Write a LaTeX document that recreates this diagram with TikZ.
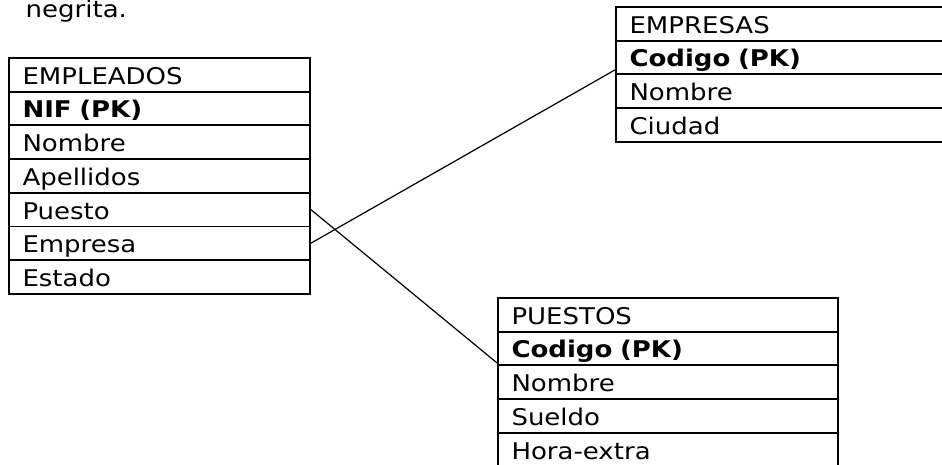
\documentclass[tikz,border=0pt]{standalone}
\usepackage{fontspec}
\setmainfont[FakeStretch=1.13]{DejaVu Sans}
\usepackage{tikz}

\begin{document}
\begin{tikzpicture}
      [
        x=0.75pt, y=-0.75pt,
        row/.style={draw,rectangle,line width=1.35pt,anchor=north west,
          minimum height=25.3pt,inner xsep=10.2pt,inner ysep=0pt,
          text height=14.25pt,text depth=0pt,align=left,
          font=\fontsize{17.25pt}{20pt}\selectfont},
        emp/.style={row,text width=205.35pt},
        tab/.style={row,text width=234.6pt},
        key/.style={font=\fontsize{17.25pt}{20pt}\selectfont\bfseries},
        link/.style={line width=0.9pt}
      ]

      \clip (0,0) rectangle (942,464);

      \node[anchor=base west,font=\fontsize{17.25pt}{20pt}\selectfont] (Note) at (21,17) {negrita.};

      % EMPLEADOS
      \node[emp] (EmpTitle) at (8,57) {EMPLEADOS};
      \node[emp,key] (EmpNIF) at (8,90.7) {NIF (PK)};
      \node[emp] (EmpNombre) at (8,124.4) {Nombre};
      \node[emp] (EmpApellidos) at (8,158.1) {Apellidos};
      \node[emp] (EmpPuesto) at (8,191.8) {Puesto};
      \node[emp] (EmpEmpresa) at (8,225.5) {Empresa};
      \node[emp] (EmpEstado) at (8,259.2) {Estado};

      % EMPRESAS
      \node[tab] (EmsTitle) at (615,6) {EMPRESAS};
      \node[tab,key] (EmsCodigo) at (615,39.7) {Codigo (PK)};
      \node[tab] (EmsNombre) at (615,73.4) {Nombre};
      \node[tab] (EmsCiudad) at (615,107.1) {Ciudad};

      % PUESTOS
      \node[tab] (PueTitle) at (497,297) {PUESTOS};
      \node[tab,key] (PueCodigo) at (497,330.7) {Codigo (PK)};
      \node[tab] (PueNombre) at (497,364.4) {Nombre};
      \node[tab] (PueSueldo) at (497,398.1) {Sueldo};
      \node[tab] (PueHora) at (497,431.8) {Hora-extra};

      \draw[link] (EmpPuesto.east) -- ([yshift=2.5pt]PueCodigo.south west);
      \draw[link] (EmpEmpresa.east) -- ([yshift=4pt]EmsCodigo.south west);
    \end{tikzpicture}
\end{document}
